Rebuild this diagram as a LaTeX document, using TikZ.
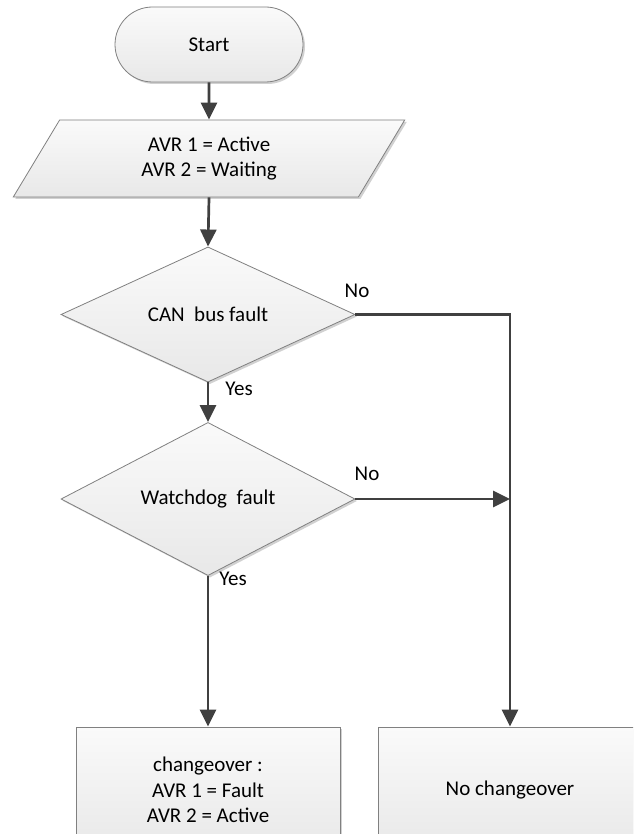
\documentclass[tikz,border=0pt]{standalone}
\usepackage{fontspec}
\setmainfont{Carlito}
\usetikzlibrary{shapes.geometric,shapes.misc,arrows.meta,shadows,calc}
\definecolor{edgegray}{HTML}{808080}
\definecolor{linegray}{HTML}{404040}
\definecolor{filltop}{HTML}{FAFAFA}
\definecolor{fillbot}{HTML}{E8E8E8}
\begin{document}
\begin{tikzpicture}[x=1pt,y=-1pt,
  every node/.style={font=\fontsize{21}{25.5}\selectfont, text=black},
  shapebox/.style={draw=edgegray, line width=0.8pt, top color=filltop, bottom color=fillbot,
    inner sep=0pt, align=center,
    drop shadow={shadow xshift=2pt, shadow yshift=-2pt, opacity=0.18, fill=black}},
  termbox/.style={shapebox, rounded rectangle, minimum width=188pt, minimum height=75pt},
  iobox/.style={shapebox, trapezium, trapezium left angle=64.3, trapezium right angle=115.7,
    trapezium stretches=true, minimum width=392pt, minimum height=77pt},
  decbox/.style={shapebox, diamond, minimum width=294pt, minimum height=128pt},
  procbox/.style={shapebox, rectangle, minimum width=264pt, minimum height=126pt},
  conn/.style={draw=linegray, line width=2.7pt, -{Triangle[length=17pt,width=16pt]}},
  lbl/.style={inner sep=0pt}
]
\useasboundingbox (0,0) rectangle (633,834);
\fill[white] (0,0) rectangle (633,834);
\clip (0,0) rectangle (633,834);

\node[termbox] (start) at (209,44.5) {Start};
\node[iobox] (para) at (209,158.5) {AVR 1 = Active\\AVR 2 = Waiting};
\node[decbox] (d1) at (208,314.5) {CAN\ \ bus fault};
\node[decbox] (d2) at (208,499) {Watchdog\ \ fault};
\node[procbox] (lbox) at (208,790) {changeover :\\AVR 1 = Fault\\AVR 2 = Active};
\node[procbox] (rbox) at (510,790) {No changeover};

\node[lbl] (no1) at (357,291) {No};
\node[lbl] (yes1) at (239,389) {Yes};
\node[lbl] (no2) at (367,474) {No};
\node[lbl] (yes2) at (233,579) {Yes};

\coordinate (j1) at (d1.east -| rbox.north);
\coordinate (j2) at (d2.east -| rbox.north);

\draw[conn] (start.south) -- (para.north);
\draw[conn] (para.south) -- (d1.north);
\draw[conn] (d1.south) -- (d2.north);
\draw[conn] (d2.south) -- (lbox.north);
\draw[conn] (d1.east) -- (j1) -- (rbox.north);
\draw[conn] (d2.east) -- (j2);
\end{tikzpicture}
\end{document}
